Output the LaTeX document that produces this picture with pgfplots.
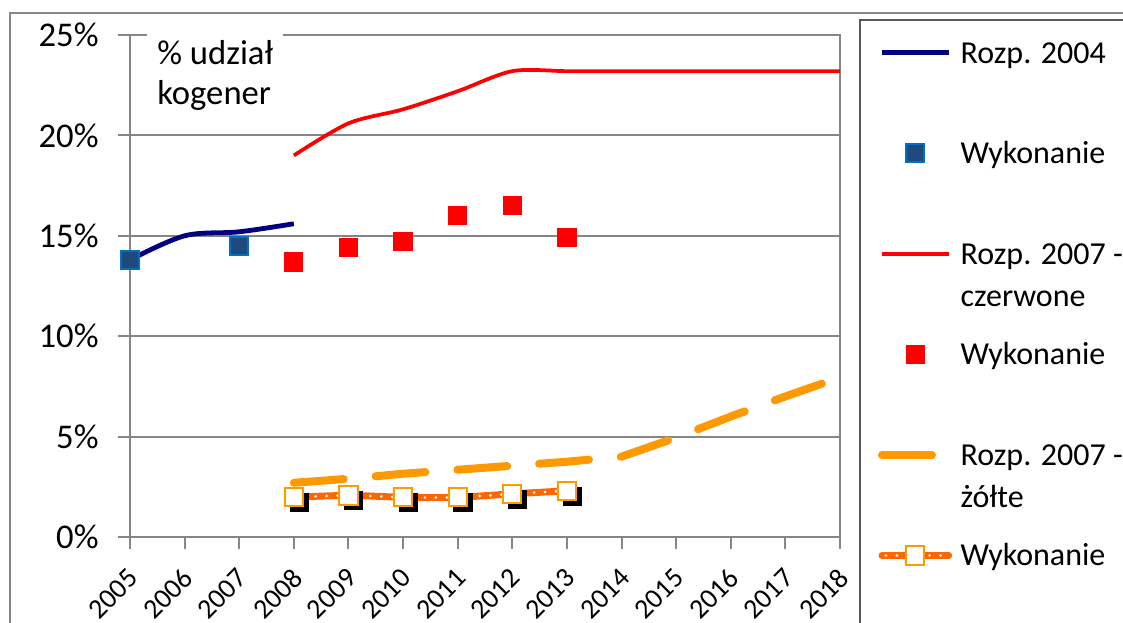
\documentclass[border=0pt]{standalone}
\usepackage{pgfplots}
\pgfplotsset{compat=1.18}
\usepackage{fontspec}
\setmainfont{Carlito}

\definecolor{navyL}{RGB}{0,0,128}
\definecolor{blueF}{RGB}{31,73,125}
\definecolor{blueE}{RGB}{0,112,192}
\definecolor{redL}{RGB}{255,0,0}
\definecolor{orangeD}{RGB}{255,153,0}
\definecolor{orangeW}{RGB}{255,102,0}
\definecolor{gridG}{RGB}{134,134,134}
\definecolor{axisG}{RGB}{89,89,89}

\newcommand{\LS}{\rule[-14.95pt]{0pt}{37.7pt}}
\newcommand{\TwoL}[2]{\smash{\vtop{\hbox{#1}\hbox{#2}}}}

\begin{document}
\begin{tikzpicture}
\useasboundingbox (0,0) rectangle (421.125pt,233.25pt);
\draw[gridG, line width=0.6pt] (3.75pt,-5pt) rectangle (430pt,228.375pt);
\draw[axisG, line width=0.6pt] (322.5pt,-5pt) rectangle (430pt,225.75pt);
\begin{axis}[
  at={(48.75pt,31.875pt)}, anchor=south west,
  scale only axis, width=266.25pt, height=188.25pt,
  xmin=2005, xmax=2018, ymin=0, ymax=25,
  xtick={2005,2006,2007,2008,2009,2010,2011,2012,2013,2014,2015,2016,2017,2018},
  xticklabels={2005,2006,2007,2008,2009,2010,2011,2012,2013,2014,2015,2016,2017,2018},
  ytick={0,5,10,15,20,25},
  yticklabels={0\%,5\%,10\%,15\%,20\%,25\%},
  ymajorgrids, grid style={gridG, line width=0.75pt},
  axis line style={gridG, line width=0.75pt},
  tick align=outside, major tick length=4.5pt,
  tick style={gridG, line width=0.75pt},
  xtick pos=bottom, ytick pos=left,
  /pgf/number format/assume math mode=true,
  yticklabel style={font=\fontsize{13}{15}\selectfont, xshift=-3.75pt},
  xticklabel style={xshift=-1.2pt, yshift=-6.5pt, rotate=45, anchor=north east, inner sep=0pt, font=\fontsize{10.5}{12}\selectfont},
  clip=false,
  legend cell align=left,
  legend image code/.code={\draw[mark repeat=2,mark phase=2,#1] plot coordinates {(0pt,0pt) (12.5pt,0pt) (25pt,0pt)};},
  legend style={at={(axis description cs:1.0535,1.0647)}, anchor=north west,
    draw=none, fill=none, inner sep=0pt, outer sep=0pt, row sep=0pt,
    nodes={inner sep=0pt, text depth={}, font=\fontsize{12}{15.75}\selectfont},
    /tikz/every odd column/.append style={column sep=3pt}},
]
\addplot[navyL, line width=1.8pt, smooth, tension=0.55] coordinates {(2005,13.8)(2006,15.0)(2007,15.2)(2008,15.6)};
\addlegendentry{\LS Rozp. 2004}
\addplot[only marks, mark=square*, mark size=3.4pt, mark options={fill=blueF, draw=blueE, line width=0.75pt}] coordinates {(2005,13.8)(2007,14.5)};
\addlegendentry{\LS Wykonanie}
\addplot[redL, line width=1.4pt, smooth, tension=0.5] coordinates {(2008,19.0)(2009,20.6)(2010,21.3)(2011,22.2)(2012,23.2)(2013,23.2)(2014,23.2)(2015,23.2)(2016,23.2)(2017,23.2)(2018,23.2)};
\addlegendentry{\LS\TwoL{Rozp. 2007 -}{czerwone}}
\addplot[only marks, mark=square*, mark size=3.4pt, mark options={fill=redL, draw=redL}] coordinates {(2008,13.7)(2009,14.4)(2010,14.7)(2011,16.0)(2012,16.5)(2013,14.9)};
\addlegendentry{\LS Wykonanie}
\addplot[orangeD, line width=3pt, line cap=round, dash pattern=on 18.75pt off 12pt] coordinates {(2008,2.7)(2009,2.9)(2010,3.15)(2011,3.35)(2012,3.55)(2013,3.75)(2014,4.0)(2015,4.95)(2016,6.0)(2017,7.0)(2018,7.95)};
\addlegendentry{\LS\TwoL{Rozp. 2007 -}{żółte}}
\addplot[forget plot, only marks, mark=square*, mark size=3.4pt, mark options={fill=black, draw=black, xshift=2pt, yshift=-2pt}] coordinates {(2008,1.98)(2009,2.07)(2010,1.98)(2011,1.98)(2012,2.15)(2013,2.3)};
\addplot[forget plot, orangeW, line width=2.6pt, smooth] coordinates {(2008,1.98)(2009,2.07)(2010,1.98)(2011,1.98)(2012,2.15)(2013,2.3)};
\addplot[white, line width=1.1pt, line cap=round, dash pattern=on 0pt off 4.1pt, smooth, mark=square*, mark size=3.4pt, mark options={solid, fill=white, draw=orangeD, line width=0.75pt},
  legend image code/.code={
    \draw[solid, orangeW, line width=2.6pt, line cap=round] (0pt,0pt)--(25pt,0pt);
    \draw[white, line width=1.1pt, line cap=round, dash pattern=on 0pt off 4.1pt] (1.5pt,0pt)--(25pt,0pt);
    \draw[solid, mark=square*, mark size=3.4pt, mark options={solid, fill=white, draw=orangeD, line width=0.75pt}] plot coordinates {(12.5pt,0pt)};
  }] coordinates {(2008,1.98)(2009,2.07)(2010,1.98)(2011,1.98)(2012,2.15)(2013,2.3)};
\addlegendentry{\LS Wykonanie}
\node[fill=white, anchor=north west, inner xsep=3.7pt, inner ysep=3pt, align=left, font=\fontsize{13}{15}\selectfont] at (axis cs:2005.31,25.15) {\% udział\\kogener};
\end{axis}
\end{tikzpicture}
\end{document}
